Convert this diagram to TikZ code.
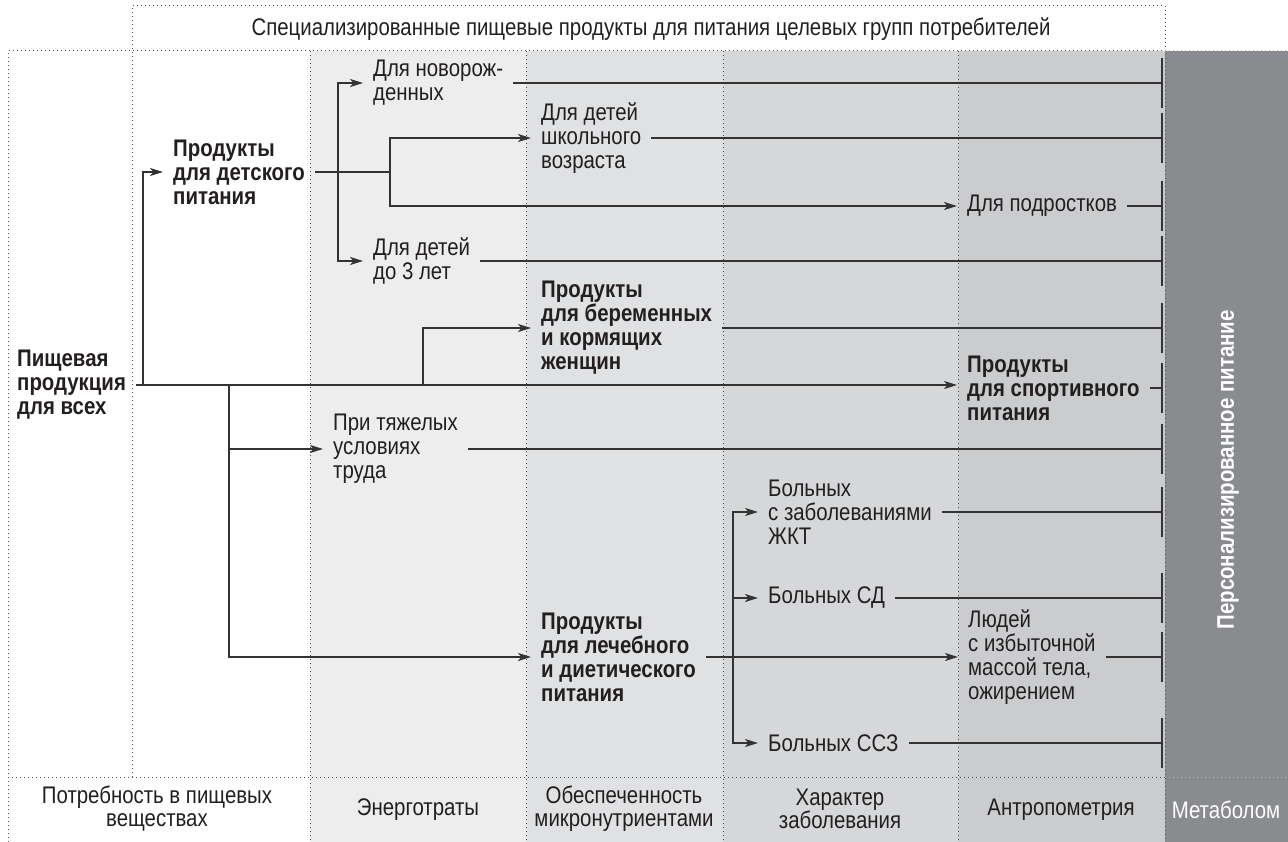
\documentclass[tikz,border=0pt]{standalone}
\usepackage{fontspec}
\setmainfont{Liberation Sans}[FakeStretch=0.85]
\usetikzlibrary{arrows.meta,calc}
\definecolor{txt}{HTML}{231F20}
\definecolor{ln}{HTML}{333333}
\definecolor{dotc}{HTML}{505050}
\definecolor{dotl}{HTML}{B8B8BA}
\definecolor{colA}{HTML}{EDEDED}
\definecolor{colB}{HTML}{E0E1E2}
\definecolor{colC}{HTML}{D6D7D9}
\definecolor{colD}{HTML}{CBCCCE}
\definecolor{colE}{HTML}{8A8B8E}
\begin{document}
\begin{tikzpicture}[x=1pt,y=-1pt,
  lbl/.style={anchor=west, align=left, inner xsep=10pt, inner ysep=0pt, font=\fontsize{24}{24}\selectfont, text=txt},
  blbl/.style={lbl, font=\fontsize{24}{24}\selectfont\bfseries},
  botlbl/.style={align=center, inner sep=0pt, font=\fontsize{24}{23}\selectfont, text=txt},
  conn/.style={draw=ln, line width=2pt},
  arr/.style={conn, -{Stealth[length=13pt,width=8pt,inset=3.5pt]}},
  dots/.style={draw=dotc, line width=1pt, dash pattern=on 1pt off 3pt},
  dotsl/.style={draw=dotl, line width=1pt, dash pattern=on 1pt off 3pt}]
\useasboundingbox (0,0) rectangle (1288,842);
% column backgrounds
\fill[colA] (310,51) rectangle (526,842);
\fill[colB] (526,51) rectangle (723,842);
\fill[colC] (723,51) rectangle (958,842);
\fill[colD] (958,51) rectangle (1165,842);
\fill[colE] (1165,51) rectangle (1288,842);
% dotted grid
\draw[dots] (132,777) -- (132,6) -- (1165,6) -- (1165,842);
\draw[dots] (8,842) -- (8,51) -- (1165,51);
\draw[dots] (8,777) -- (1165,777);
\draw[dotsl] (1165,51) -- (1288,51);
\draw[dotsl] (1165,777) -- (1288,777);
\foreach \x in {310,526,723,958} \draw[dots] (\x,51) -- (\x,842);
% title
\node[botlbl] (title) at (651,29) {Специализированные пищевые продукты для питания целевых групп потребителей};
% bottom labels
\node[botlbl] (bneed) at (157,809) {Потребность в пищевых\\веществах};
\node[botlbl] (benergy) at (418,810) {Энерготраты};
\node[botlbl] (bmicro) at (624,809) {Обеспеченность\\микронутриентами};
\node[botlbl] (bdis) at (840,809) {Характер\\заболевания};
\node[botlbl] (banthro) at (1061,810) {Антропометрия};
\node[botlbl, text=white] (bmeta) at (1226,810) {Метаболом};
\node[rotate=90, anchor=east, inner sep=0pt, text=white, font=\fontsize{24}{24}\selectfont\bfseries] (pers) at (1228,310) {Персонализированное питание};
% nodes
\node[blbl] (root) at (7,385) {Пищевая\\продукция\\для всех};
\node[blbl] (kid) at (163,172) {Продукты\\для детского\\питания};
\node[lbl] (newb) at (363,83) {Для новорож-\\денных};
\node[lbl] (school) at (531,138) {Для детей\\школьного\\возраста};
\node[lbl] (teen) at (957,206) {Для подростков};
\node[lbl] (under3) at (363,261) {Для детей\\до 3 лет};
\node[blbl] (preg) at (531,328) {Продукты\\для беременных\\и кормящих\\женщин};
\node[blbl] (sport) at (957,388) {Продукты\\для спортивного\\питания};
\node[lbl] (hard) at (323,449) {При тяжелых\\условиях\\труда};
\node[lbl] (gkt) at (758,512) {Больных\\с заболеваниями\\ЖКТ};
\node[lbl] (sd) at (758,598) {Больных СД};
\node[blbl] (med) at (531,657) {Продукты\\для лечебного\\и диетического\\питания};
\node[lbl] (obese) at (958,657) {Людей\\с избыточной\\массой тела,\\ожирением};
\node[lbl] (ssz) at (758,743) {Больных ССЗ};
% junction coordinates
\coordinate (a1) at (143,385);
\coordinate (ex) at (229,385);
\coordinate (dx) at (423,385);
\coordinate (bx) at (338,172);
\coordinate (cx) at (390,172);
\coordinate (fx) at (733,657);
\coordinate (endx) at (1162,0);
% connectors
\draw[arr] (root.east) -- (root.east -| sport.west);
\draw[arr] (a1) |- (kid.west);
\draw[conn] (kid.east) -- (cx);
\draw[arr] (bx) |- (newb.west);
\draw[arr] (bx) |- (under3.west);
\draw[arr] (cx) |- (school.west);
\draw[arr] (cx) |- (teen.west);
\draw[arr] (dx) |- (preg.west);
\draw[arr] (ex) |- (hard.west);
\draw[arr] (ex) |- (med.west);
\draw[arr] (med.east) -- (med.east -| obese.west);
\draw[arr] (fx) |- (gkt.west);
\draw[arr] (fx) |- (sd.west);
\draw[arr] (fx) |- (ssz.west);
\foreach \n in {newb,school,teen,under3,preg,sport,hard,gkt,sd,obese,ssz} {
  \draw[conn] (\n.east) -- (\n.east -| endx);
  \draw[conn] ($(\n.east -| endx)+(0,-25)$) -- ($(\n.east -| endx)+(0,25)$);
}
\end{tikzpicture}
\end{document}
